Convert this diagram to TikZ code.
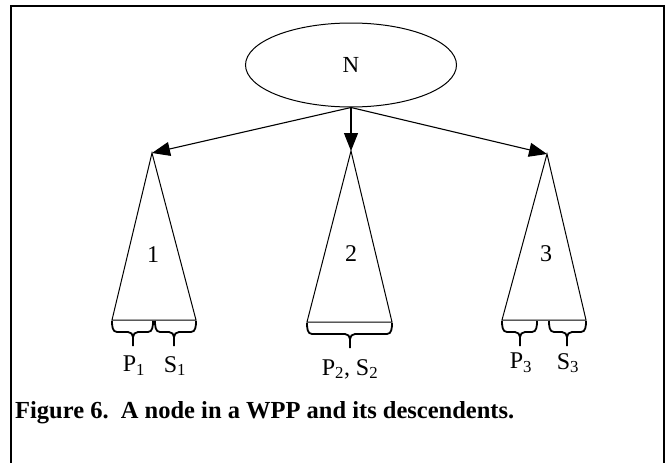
\documentclass[tikz,border=0pt]{standalone}
\usepackage{fontspec}
\setmainfont{Liberation Serif}
\usetikzlibrary{arrows.meta,shapes.geometric,calc}
\newcommand{\mybrace}[4]{% x1, x2, y (base), xm (tip)
  \draw[bracestyle] (#1,#3) to[out=-90,in=180] ($(#1,#3)+(5,11)$) -- ($(#4,#3)+(-5,11)$) to[out=0,in=90] ($(#4,#3)+(0,16)$) -- ($(#4,#3)+(0,25)$);
  \draw[bracestyle] (#2,#3) to[out=-90,in=0] ($(#2,#3)+(-5,11)$) -- ($(#4,#3)+(5,11)$) to[out=180,in=90] ($(#4,#3)+(0,16)$);
}
\begin{document}
\begin{tikzpicture}[x=1pt,y=-1pt,
  tri/.style={draw,line width=1pt,line join=miter},
  bracestyle/.style={draw,line width=1.8pt},
  conn/.style={line width=1.1pt,-{Triangle[length=18pt,width=14pt]}},
  lbl/.style={font=\fontsize{24}{26}\selectfont,inner sep=0pt},
  frame/.style={draw,line width=1.6pt}]
\useasboundingbox (0,0) rectangle (672,463);
\draw[frame] (11,470) -- (11,6) -- (664,6) -- (664,470);
\node[ellipse,draw,line width=1pt,minimum width=211pt,minimum height=84pt,inner sep=0pt,font=\fontsize{23}{25}\selectfont] (N) at (351,65) {N};
% apexes and bases
\coordinate (a1) at (152,153);
\coordinate (a2) at (351,151);
\coordinate (a3) at (547,154);
\coordinate (l1) at (112,320); \coordinate (r1) at (196,320);
\coordinate (l2) at (307,322); \coordinate (r2) at (392,322);
\coordinate (l3) at (502,320); \coordinate (r3) at (586,320);
\draw[tri] (a1) -- (l1) -- (r1) -- cycle;
\draw[tri] (a2) -- (l2) -- (r2) -- cycle;
\draw[tri] (a3) -- (l3) -- (r3) -- cycle;
\draw[conn] (N.south) -- (a1);
\draw[conn] (N.south) -- (a2);
\draw[conn] (N.south) -- (a3);
\node[lbl] (t1) at (153,255) {1};
\node[lbl] (t2) at (351,254) {2};
\node[lbl] (t3) at (546,254) {3};
% braces
\mybrace{112}{153}{321}{133}
\mybrace{155}{196}{321}{174}
\mybrace{307}{392}{323}{350}
\mybrace{502}{537}{321}{520}
\mybrace{549}{586}{321}{567}
\node[lbl] (p1) at (134,366) {P\textsubscript{1}};
\node[lbl] (s1) at (175,366) {S\textsubscript{1}};
\node[lbl] (ps2) at (350,369) {P\textsubscript{2}, S\textsubscript{2}};
\node[lbl] (p3) at (521,363) {P\textsubscript{3}};
\node[lbl] (s3) at (568,363) {S\textsubscript{3}};
\node[anchor=base west,inner sep=0pt,font=\fontsize{24.5}{26}\selectfont\bfseries] (cap) at (15,418) {Figure 6.\ \ A node in a WPP and its descendents.};
\end{tikzpicture}
\end{document}
